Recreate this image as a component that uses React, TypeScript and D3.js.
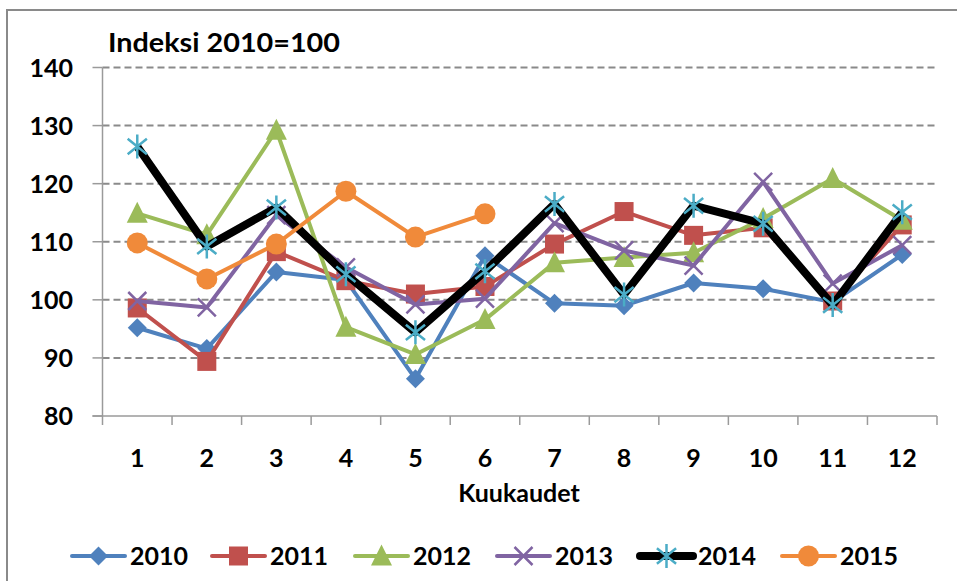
import React from "react";
import * as d3 from "d3";

const months = ["1", "2", "3", "4", "5", "6", "7", "8", "9", "10", "11", "12"];
const yTicks = [80, 90, 100, 110, 120, 130, 140];
const years = ["2010", "2011", "2012", "2013", "2014", "2015"];
const v2010 = [95.2, 91.6, 104.8, 103.4, 86.4, 107.6, 99.4, 99.0, 102.9, 101.9, 99.6, 107.8];
const v2011 = [98.6, 89.4, 108.3, 103.3, 101.0, 102.3, 109.6, 115.2, 111.1, 112.4, 99.8, 112.9];
const v2012 = [114.9, 111.2, 129.2, 95.3, 90.6, 96.6, 106.4, 107.3, 108.1, 114.0, 120.9, 113.7];
const v2013 = [99.8, 98.7, 114.6, 105.6, 99.2, 100.2, 113.2, 108.5, 105.9, 120.3, 102.8, 109.4];
const v2014 = [126.4, 109.2, 115.9, 104.4, 94.4, 104.9, 116.5, 100.9, 116.2, 113.1, 99.1, 115.1];
const v2015 = [109.8, 103.6, 109.6, 118.7, 110.8, 114.8];
const seriesValues = [v2010, v2011, v2012, v2013, v2014, v2015];
const lineColors = ["#4F81BD", "#C0504D", "#9BBB59", "#8064A2", "#000000", "#F08A3A"];
const markerColors = ["#4F81BD", "#C0504D", "#9BBB59", "#8064A2", "#4BACC6", "#F08A3A"];
const markerTypes = ["diamond", "square", "triangle", "x", "star", "circle"];
const lineWidths = [4, 4, 4, 4, 8, 4];

const FONT = "Lato, 'Open Sans', sans-serif";

function Marker({ type, x, y, color }: { type: string; x: number; y: number; color: string }) {
  if (type === "diamond") {
    const s = 9.5;
    return <path d={`M${x},${y - s}L${x + s},${y}L${x},${y + s}L${x - s},${y}Z`} fill={color} />;
  }
  if (type === "square") {
    const s = 9.5;
    return <rect x={x - s} y={y - s} width={2 * s} height={2 * s} fill={color} />;
  }
  if (type === "triangle") {
    const s = 10.5;
    return <path d={`M${x},${y - s - 1}L${x + s},${y + s - 1}L${x - s},${y + s - 1}Z`} fill={color} />;
  }
  if (type === "x") {
    const s = 9;
    return (
      <path d={`M${x - s},${y - s}L${x + s},${y + s}M${x - s},${y + s}L${x + s},${y - s}`} stroke={color} strokeWidth={2.5} />
    );
  }
  if (type === "star") {
    const s = 12;
    const d = s * 0.8;
    return (
      <path
        d={`M${x - d},${y - d * 0.8}L${x + d},${y + d * 0.8}M${x - d},${y + d * 0.8}L${x + d},${y - d * 0.8}M${x},${y - s}L${x},${y + s}`}
        stroke={color}
        strokeWidth={2.5}
      />
    );
  }
  return <circle cx={x} cy={y} r={10.5} fill={color} />;
}

export default function App() {
  const W = 957;
  const H = 581;
  const x0 = 102.5;
  const x1 = 937;
  const x = d3.scaleBand<string>().domain(months).range([x0, x1]);
  const y = d3.scaleLinear().domain([80, 140]).range([416, 67.5]);
  const cx = (m: string) => (x(m) as number) + x.bandwidth() / 2;
  const lineGen = d3
    .line<number>()
    .x((_, i) => cx(months[i]))
    .y((d) => y(d));

  const legendX = [72, 212, 355, 497, 640, 782];

  return (
    <svg width={W} height={H} style={{ position: "absolute", left: 0, top: 0 }} fontFamily={FONT}>
      <rect x={0} y={0} width={W} height={H} fill="#fff" />
      <rect x={7} y={10} width={W + 20} height={H + 20} fill="none" stroke="#8a8a8a" strokeWidth={2} />
      {/* gridlines */}
      {yTicks.slice(1).map((t) => (
        <line key={t} x1={x0} x2={x1} y1={y(t)} y2={y(t)} stroke="#8a8a8a" strokeWidth={2} strokeDasharray="7,4" />
      ))}
      {/* axes */}
      <line x1={x0} x2={x0} y1={y(140)} y2={y(80) + 9} stroke="#9a9a9a" strokeWidth={1.5} />
      <line x1={x0 - 10} x2={x1} y1={y(80)} y2={y(80)} stroke="#9a9a9a" strokeWidth={1.5} />
      {yTicks.map((t) => (
        <line key={"yt" + t} x1={x0 - 10} x2={x0} y1={y(t)} y2={y(t)} stroke="#9a9a9a" strokeWidth={1.5} />
      ))}
      {months.map((m) => (
        <line
          key={"xt" + m}
          x1={(x(m) as number) + x.bandwidth()}
          x2={(x(m) as number) + x.bandwidth()}
          y1={y(80)}
          y2={y(80) + 9}
          stroke="#9a9a9a"
          strokeWidth={1.5}
        />
      ))}
      {yTicks.map((t) => (
        <text key={"yl" + t} x={73} y={y(t) + 9} textAnchor="end" fontSize={25} fontWeight={700} fill="#000">
          {t}
        </text>
      ))}
      {months.map((m) => (
        <text key={"xl" + m} x={cx(m)} y={467} textAnchor="middle" fontSize={25} fontWeight={700} fill="#000">
          {m}
        </text>
      ))}
      <text x={519} y={502} textAnchor="middle" fontSize={25} fontWeight={700} fill="#000">
        Kuukaudet
      </text>
      <text x={108} y={52} fontSize={26} fontWeight={700} fill="#000" textLength={232} lengthAdjust="spacingAndGlyphs">
        Indeksi 2010=100
      </text>
      {/* series */}
      {seriesValues.map((vals, si) => (
        <g key={years[si]}>
          <path d={lineGen(vals) || ""} fill="none" stroke={lineColors[si]} strokeWidth={lineWidths[si]} strokeLinejoin="round" />
          {vals.map((v, i) => (
            <Marker key={i} type={markerTypes[si]} x={cx(months[i])} y={y(v)} color={markerColors[si]} />
          ))}
        </g>
      ))}
      {/* legend */}
      {years.map((yr, i) => (
        <g key={"lg" + yr}>
          <line
            x1={legendX[i]}
            x2={legendX[i] + 53}
            y1={556}
            y2={556}
            stroke={lineColors[i]}
            strokeWidth={lineWidths[i]}
            strokeLinecap="round"
          />
          <Marker type={markerTypes[i]} x={legendX[i] + 26.5} y={556} color={markerColors[i]} />
          <text x={legendX[i] + 58} y={565} fontSize={25} fontWeight={700} fill="#000">
            {yr}
          </text>
        </g>
      ))}
    </svg>
  );
}
